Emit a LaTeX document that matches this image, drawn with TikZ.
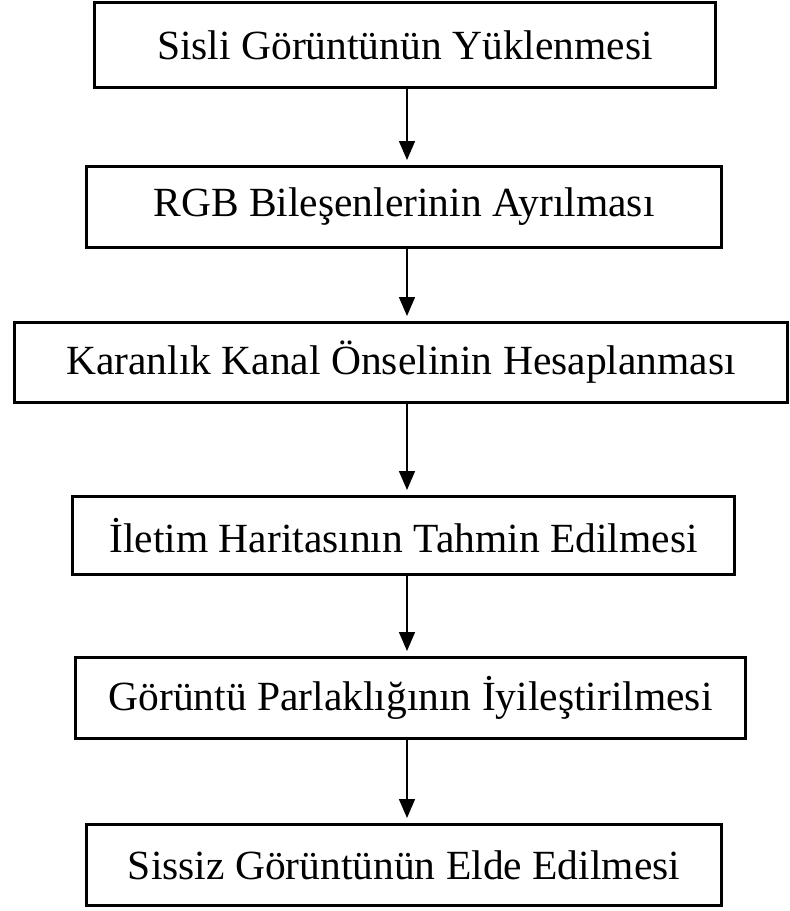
\documentclass[tikz,border=0pt]{standalone}
\usepackage{fontspec}
\setmainfont{Liberation Serif}
\usetikzlibrary{arrows.meta}
\begin{document}
\begin{tikzpicture}[x=1pt,y=-1pt,
  stepbox/.style={draw=black,line width=3pt,fill=white,inner sep=0pt,align=center,
    font=\fontsize{41.5}{44}\selectfont},
  flow/.style={line width=1.5pt,-{Triangle[width=16pt,length=19pt]},shorten >=5pt}]
\useasboundingbox (0,0) rectangle (790,911);
\fill[white] (0,0) rectangle (790,911);
\node[stepbox,minimum width=621pt,minimum height=85pt] (b1) at (405,45) {Sisli Görüntünün Yüklenmesi};
\node[stepbox,minimum width=635pt,minimum height=81pt] (b2) at (404,207) {RGB Bileşenlerinin Ayrılması};
\node[stepbox,minimum width=773pt,minimum height=80pt] (b3) at (401,362.5) {Karanlık Kanal Önselinin Hesaplanması};
\node[stepbox,minimum width=662pt,minimum height=78pt] (b4) at (403.5,535.5) {İletim Haritasının Tahmin Edilmesi};
\node[stepbox,minimum width=670pt,minimum height=81pt] (b5) at (410.5,698) {Görüntü Parlaklığının İyileştirilmesi};
\node[stepbox,minimum width=635pt,minimum height=81pt] (b6) at (404,865) {Sissiz Görüntünün Elde Edilmesi};
\coordinate (ax) at (407,0);
\draw[flow] (b1.south -| ax) -- (b2.north -| ax);
\draw[flow] (b2.south -| ax) -- (b3.north -| ax);
\draw[flow] (b3.south -| ax) -- (b4.north -| ax);
\draw[flow] (b4.south -| ax) -- (b5.north -| ax);
\draw[flow] (b5.south -| ax) -- (b6.north -| ax);
\end{tikzpicture}
\end{document}
